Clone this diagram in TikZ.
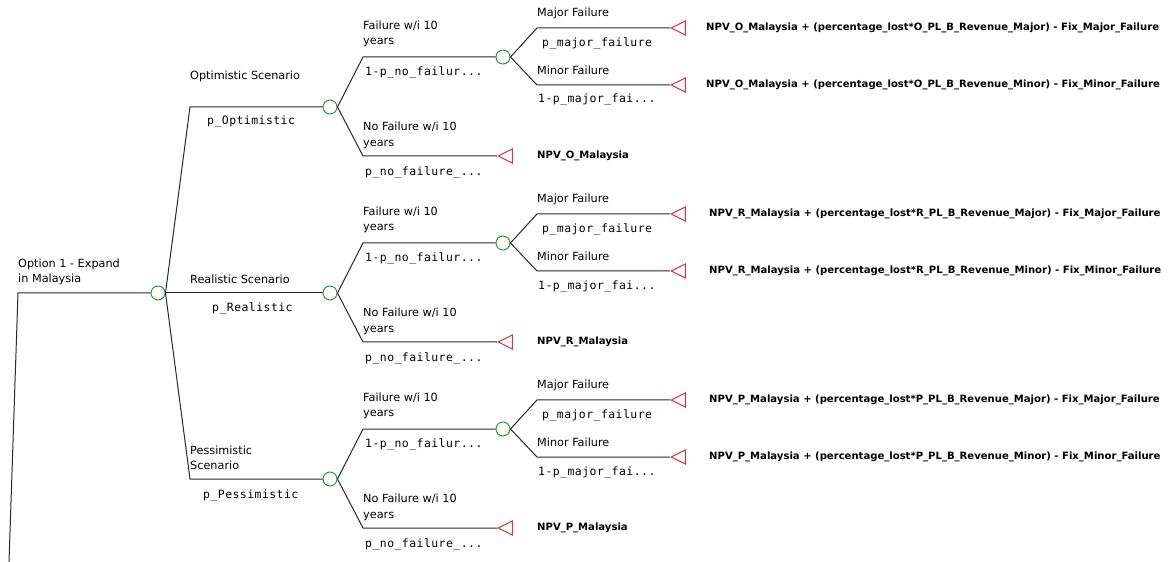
\documentclass[tikz,border=0pt]{standalone}
\usepackage{fontspec}
\setmainfont{DejaVu Sans}
\newfontfamily\codefont[LetterSpace=4]{DejaVu Sans Mono}
\usetikzlibrary{shapes.geometric}
\definecolor{edgegray}{RGB}{40,40,40}
\definecolor{chancegreen}{RGB}{55,150,75}
\definecolor{termred}{RGB}{220,50,60}
\begin{document}
\begin{tikzpicture}[x=1bp,y=-1bp,
  branch/.style={draw=edgegray, line width=1bp},
  chance/.style={circle, draw=chancegreen, fill=white, line width=1bp,
    minimum size=14bp, inner sep=0},
  term/.style={isosceles triangle, isosceles triangle stretches,
    shape border rotate=180, draw=termred, fill=white, line width=1bp,
    minimum height=14bp, minimum width=14bp, inner sep=0},
  lbl/.style={anchor=west, inner sep=0, align=left,
    font=\fontsize{11.3}{15.5}\selectfont},
  prob/.style={anchor=west, inner sep=0, font=\fontsize{11.5}{14}\codefont},
  pay/.style={anchor=west, inner sep=0, font=\fontsize{10.1}{12}\selectfont\bfseries},
]
\useasboundingbox (0,0) rectangle (1174,562);

% scenario subtrees: failure / no failure, then major / minor failure
\foreach \k/\dy/\X/\px in {o/0/O/706, r/186/R/709, p/372/P/709} {
  \node[chance] (\k-c) at (330,107+\dy) {};
  \coordinate (\k-fu) at (363,57+\dy);
  \node[chance] (\k-f) at (503,57+\dy) {};
  \coordinate (\k-nu) at (363,156+\dy);
  \node[term, anchor=apex] (\k-n) at (497,156+\dy) {};
  \coordinate (\k-maj) at (537,28+\dy);
  \node[term, anchor=apex] (\k-tmaj) at (670,28+\dy) {};
  \coordinate (\k-min) at (537,85+\dy);
  \node[term, anchor=apex] (\k-tmin) at (670,85+\dy) {};
  \draw[branch] (\k-c.east) -- (\k-fu) -- (\k-f.west);
  \draw[branch] (\k-c.east) -- (\k-nu) -- (\k-n.apex);
  \draw[branch] (\k-f.east) -- (\k-maj) -- (\k-tmaj.apex);
  \draw[branch] (\k-f.east) -- (\k-min) -- (\k-tmin.apex);
  \node[lbl] (\k-lf) at (363,34+\dy) {Failure w/i 10\\years};
  \node[prob] (\k-pf) at (365,72+\dy) {1-p\_no\_failur...};
  \node[lbl] (\k-ln) at (363,135.5+\dy) {No Failure w/i 10\\years};
  \node[prob] (\k-pn) at (365,172+\dy) {p\_no\_failure\_...};
  \node[pay] (\k-vn) at (537,156+\dy) {NPV\_\X\_Malaysia};
  \node[lbl] (\k-lmaj) at (537,13+\dy) {Major Failure};
  \node[prob] (\k-pmaj) at (542,43+\dy) {p\_major\_failure};
  \node[lbl] (\k-lmin) at (537,70+\dy) {Minor Failure};
  \node[prob] (\k-pmin) at (538,100+\dy) {1-p\_major\_fai...};
  \node[pay] (\k-vmaj) at (\px,28+\dy)
    {NPV\_\X\_Malaysia + (percentage\_lost*\X\_PL\_B\_Revenue\_Major) - Fix\_Major\_Failure};
  \node[pay] (\k-vmin) at (\px,85+\dy)
    {NPV\_\X\_Malaysia + (percentage\_lost*\X\_PL\_B\_Revenue\_Minor) - Fix\_Minor\_Failure};
}

% decision branch and scenario split
\coordinate (root) at (9,562);
\coordinate (rootk) at (18,293);
\node[chance] (c0) at (158,293) {};
\coordinate (ok) at (190,107);
\coordinate (pk) at (190,479);
\draw[branch] (root) -- (rootk) -- (c0.west);
\draw[branch] (c0.east) -- (ok) -- (o-c.west);
\draw[branch] (c0.east) -- (r-c.west);
\draw[branch] (c0.east) -- (pk) -- (p-c.west);

\node[lbl] (opt) at (18,272) {Option 1 - Expand\\in Malaysia};
\node[lbl] (lo) at (190,76) {Optimistic Scenario};
\node[prob] (po) at (207,122) {p\_Optimistic};
\node[lbl] (lr) at (190,279) {Realistic Scenario};
\node[prob] (pr) at (212,308) {p\_Realistic};
\node[lbl] (lp) at (190,458) {Pessimistic\\Scenario};
\node[prob] (pp) at (203,495) {p\_Pessimistic};
\end{tikzpicture}
\end{document}
